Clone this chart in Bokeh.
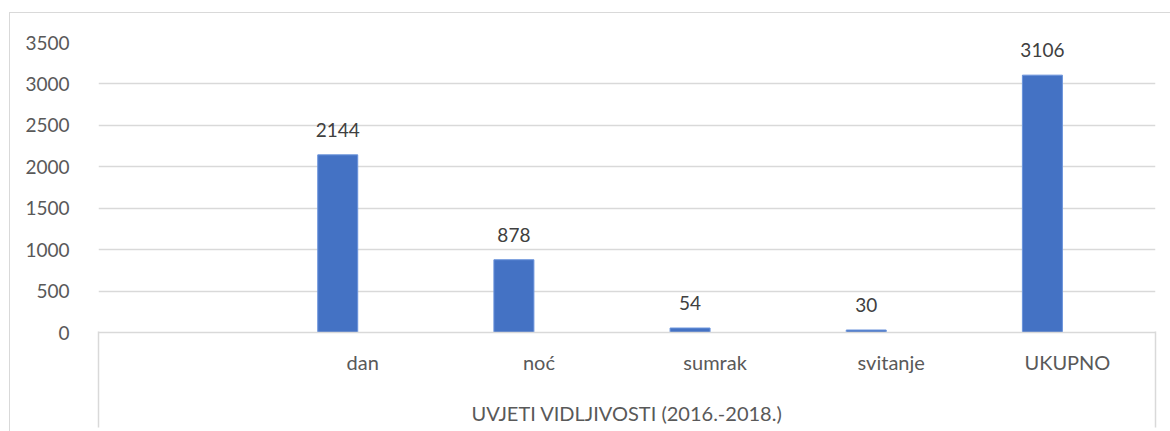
from bokeh.plotting import figure
from bokeh.models import (Range1d, ColumnDataSource, LabelSet,
                          SingleIntervalTicker, FixedTicker, LinearAxis)
from bokeh.core.properties import value
from bokeh.embed import file_html
from bokeh.resources import INLINE

# ---- data ----
all_categories = ["", "dan", "noć", "sumrak", "svitanje", "UKUPNO"]
bar_categories = ["dan", "noć", "sumrak", "svitanje", "UKUPNO"]
bar_values = [2144, 878, 54, 30, 3106]
bar_labels = ["2144", "878", "54", "30", "3106"]
axis_title = "UVJETI VIDLJIVOSTI (2016.-2018.)"

FONT = "Lato"
TXT = "#595959"
GRID = "#d9d9d9"
BAR = "#4472C4"

n = len(all_categories)
centers = [i + 0.5 for i in range(n)]
bar_x = [all_categories.index(c) + 0.5 - 0.142 for c in bar_categories]

W, H = 1170, 431
p = figure(width=W, height=H, x_range=Range1d(0, n),
           y_range=Range1d(0, 3500), output_backend="svg", toolbar_location=None,
           min_border_left=98, min_border_right=15, min_border_top=42,
           min_border_bottom=99)
p.outline_line_color = None
p.background_fill_color = "white"
p.border_fill_alpha = 0
# outer chart-area border (decoration of the chart container)
p.styles = {
    "background-color": "white",
    "background-image": "linear-gradient(#d9d9d9,#d9d9d9), linear-gradient(#d9d9d9,#d9d9d9)",
    "background-size": "1px 100%, 100% 1px",
    "background-position": "9px 12px, 9px 12px",
    "background-repeat": "no-repeat",
}

src = ColumnDataSource(dict(x=bar_x, val=bar_values, lab=bar_labels))
p.vbar(x="x", top="val", width=0.227, source=src,
       fill_color=BAR, line_color="#6a93db", line_width=1)

labels = LabelSet(x="x", y="val", text="lab",
                  source=src, text_align="center", text_baseline="alphabetic",
                  y_offset=18, text_font=value(FONT), text_font_size="19px",
                  text_color="#404040")
p.add_layout(labels)

# y axis
p.yaxis.ticker = SingleIntervalTicker(interval=500)
p.yaxis.axis_line_color = None
p.yaxis.major_tick_line_color = None
p.yaxis.minor_tick_line_color = None
p.yaxis.major_label_standoff = 23
p.yaxis.major_label_text_font = FONT
p.yaxis.major_label_text_font_size = "19px"
p.yaxis.major_label_text_color = TXT

# x axis (categories + outer level title)
label_ticks = [c for c, name in zip(centers, all_categories) if name]
xa = p.xaxis[0]
xa.ticker = FixedTicker(ticks=label_ticks)
xa.major_label_overrides = {c: name for c, name in zip(centers, all_categories) if name}
xa.axis_line_color = GRID
xa.axis_line_width = 1.5
xa.major_tick_line_color = None
xa.minor_tick_line_color = None
xa.major_label_standoff = 11
xa.major_label_text_font = FONT
xa.major_label_text_font_size = "20px"
xa.major_label_text_color = TXT
xa.axis_label = axis_title
xa.axis_label_standoff = 24
xa.axis_label_text_font = FONT
xa.axis_label_text_font_size = "20px"
xa.axis_label_text_font_style = "normal"
xa.axis_label_text_color = TXT

# outer category-axis side lines (ticks at both ends of the category span)
edge = LinearAxis(ticker=FixedTicker(ticks=[0, n]),
                  axis_line_color=None, major_tick_line_color=GRID, major_tick_line_width=1.5,
                  major_tick_in=96, major_tick_out=0, minor_tick_line_color=None,
                  major_label_overrides={0: "", n: ""},
                  major_label_text_font_size="1px", major_label_standoff=0)
p.add_layout(edge, "below")

p.xgrid.grid_line_color = None
p.ygrid.grid_line_color = GRID
p.ygrid.grid_line_width = 1.5

open("out.html", "w").write(file_html(p, INLINE))
